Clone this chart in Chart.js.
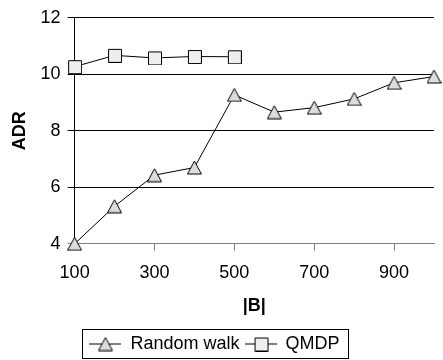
<!DOCTYPE html>
<html>
<head>
<meta charset="utf-8">
<script src="https://cdn.jsdelivr.net/npm/chart.js@4"></script>
<style>
  html, body { margin: 0; padding: 0; background: #fff; }
  #wrap { width: 443px; height: 360px; }
</style>
</head>
<body>
<div id="wrap"><canvas id="chart"></canvas></div>
<script>
// ── DATA ────────────────────────────────────────────────────────────────────
const sizes = [100, 200, 300, 400, 500, 600, 700, 800, 900, 1000];
const randomWalk = [4.0, 5.33, 6.43, 6.7, 9.27, 8.66, 8.82, 9.13, 9.7, 9.92];
const qmdpSizes = [100, 200, 300, 400, 500];
const qmdp = [10.27, 10.67, 10.58, 10.63, 10.62];
const xTicks = [100, 300, 500, 700, 900];
const yTicks = [4, 6, 8, 10, 12];

const FONT = "'Liberation Sans', Arial, sans-serif";

// Excel-like markers, drawn once on small canvases
function marker(kind, lineWidth) {
  const w = lineWidth || 15;
  const h = 15;
  const c = document.createElement('canvas');
  c.width = w; c.height = h;
  const g = c.getContext('2d');
  const cx = w / 2, cy = h / 2;
  if (lineWidth) {
    g.strokeStyle = '#000'; g.lineWidth = 1;
    g.beginPath(); g.moveTo(0, Math.floor(cy) + 0.5); g.lineTo(w, Math.floor(cy) + 0.5); g.stroke();
  }
  g.strokeStyle = '#000'; g.lineWidth = 1;
  g.beginPath();
  if (kind === 'tri') {
    g.fillStyle = '#dcdcdc';
    g.moveTo(cx, cy - 6.5);
    g.lineTo(cx + 7, cy + 6.5);
    g.lineTo(cx - 7, cy + 6.5);
    g.closePath();
  } else {
    g.fillStyle = '#eeeeee';
    g.rect(Math.round(cx - 6.5) + 0.5, Math.round(cy - 6.5) + 0.5, 13, 13);
  }
  g.fill(); g.stroke();
  return c;
}
const triPoint = marker('tri');
const boxPoint = marker('box');
const triLegend = marker('tri', 32);
const boxLegend = marker('box', 32);

// box round the legend
const legendFrame = {
  id: 'legendFrame',
  afterDraw(chart) {
    const hb = chart.legend && chart.legend.legendHitBoxes;
    if (!hb || !hb.length) return;
    const last = hb[hb.length - 1];
    const left = hb[0].left - 7, right = last.left + last.width + 9;
    const top = hb[0].top - 6, bottom = hb[0].top + hb[0].height + 5;
    const ctx = chart.ctx;
    ctx.save();
    ctx.strokeStyle = '#000'; ctx.lineWidth = 1;
    ctx.strokeRect(Math.round(left) + 0.5, Math.round(top) + 0.5, Math.round(right - left), Math.round(bottom - top));
    ctx.restore();
  }
};

new Chart(document.getElementById('chart').getContext('2d'), {
  type: 'line',
  data: {
    datasets: [
      {
        label: 'Random walk',
        data: sizes.map((x, i) => ({ x, y: randomWalk[i] })),
        borderColor: '#000', borderWidth: 1,
        pointStyle: triPoint, legendStyle: triLegend, clip: false
      },
      {
        label: 'QMDP',
        data: qmdpSizes.map((x, i) => ({ x, y: qmdp[i] })),
        borderColor: '#000', borderWidth: 1,
        pointStyle: boxPoint, legendStyle: boxLegend, clip: false
      }
    ]
  },
  options: {
    responsive: true, maintainAspectRatio: false, animation: false,
    layout: { padding: { top: 3, right: 9, left: -5, bottom: -3 } },
    plugins: {
      tooltip: { enabled: false },
      legend: {
        position: 'bottom',
        labels: {
          color: '#000', font: { family: FONT, size: 18 }, padding: 5,
          usePointStyle: true, pointStyleWidth: 32,
          generateLabels: chart => chart.data.datasets.map((ds, i) => ({
            text: ds.label, pointStyle: ds.legendStyle, datasetIndex: i,
            fontColor: '#000', lineWidth: 0, strokeStyle: 'transparent', fillStyle: 'transparent'
          }))
        }
      }
    },
    scales: {
      x: {
        type: 'linear', min: 100, max: 1000,
        afterBuildTicks: axis => { axis.ticks = xTicks.map(v => ({ value: v })); },
        ticks: { color: '#000', font: { family: FONT, size: 18 }, padding: 11, maxRotation: 0 },
        grid: {
          drawOnChartArea: false, drawTicks: true, tickLength: 7,
          color: ctx => (ctx.tick && ctx.tick.value === 100 ? 'transparent' : '#808080')
        },
        border: { color: '#808080', width: 1 },
        title: { display: true, text: '|B|', color: '#000', font: { family: FONT, size: 18, weight: 'bold' }, padding: { top: 1, bottom: 13 } }
      },
      y: {
        min: 4, max: 12,
        afterBuildTicks: axis => { axis.ticks = yTicks.map(v => ({ value: v })); },
        ticks: { color: '#000', font: { family: FONT, size: 18 }, padding: 7 },
        grid: {
          tickLength: 7,
          color: ctx => (ctx.tick && ctx.tick.value === 4 ? '#808080' : '#000')
        },
        border: { color: '#000', width: 1 },
        title: { display: true, text: 'ADR', color: '#000', font: { family: FONT, size: 18, weight: 'bold' }, padding: { top: 14, bottom: 3 } }
      }
    }
  },
  plugins: [legendFrame]
});
</script>
</body>
</html>
